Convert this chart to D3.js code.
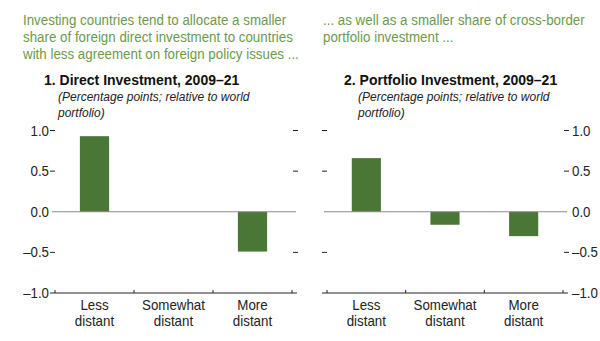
<!DOCTYPE html>
<html>
<head>
<meta charset="utf-8">
<script src="https://cdn.jsdelivr.net/npm/d3@7"></script>
<style>
  html, body { margin: 0; padding: 0; background: #fff; }
  svg { display: block; }
  text { font-family: "Liberation Sans Narrow", "Arial Narrow", "Liberation Sans", Arial, sans-serif; }
</style>
</head>
<body>
<svg id="chart" width="600" height="341"></svg>
<script>
// Categories and values (percentage points relative to world portfolio)
const categories = ["Less distant", "Somewhat distant", "More distant"];
const categoryLines = [["Less", "distant"], ["Somewhat", "distant"], ["More", "distant"]];
const directValues = [0.93, 0.0, -0.49];
const portfolioValues = [0.66, -0.16, -0.30];
const tickValues = [1.0, 0.5, 0.0, -0.5, -1.0];
const tickLabels = ["1.0", "0.5", "0.0", "\u20130.5", "\u20131.0"];

const headlineLeft = [
  "Investing countries tend to allocate a smaller",
  "share of foreign direct investment to countries",
  "with less agreement on foreign policy issues ..."
];
const headlineRight = [
  "... as well as a smaller share of cross-border",
  "portfolio investment ..."
];
const titleLeft = "1. Direct Investment, 2009\u201321";
const titleRight = "2. Portfolio Investment, 2009\u201321";
const subtitleLines = ["(Percentage points; relative to world", "portfolio)"];

const svg = d3.select("#chart");
const green = "#4a7636";
const headGreen = "#6b9a4b";

// Condensed-looking text: draw at (x, y) and squeeze horizontally by sx
function label(parent, str, x, y, size, sx, opts = {}) {
  const t = parent.append("text")
    .attr("transform", `translate(${x},${y}) scale(${sx},1)`)
    .attr("text-anchor", opts.anchor || "start")
    .attr("fill", opts.fill || "#222")
    .style("font-size", size + "px")
    .text(str);
  if (opts.weight) t.style("font-weight", opts.weight);
  if (opts.style) t.style("font-style", opts.style);
  return t;
}

function headline(lines, x) {
  lines.forEach((s, i) => label(svg, s, x, 25 + i * 17, 15, 0.89, { fill: headGreen }));
}

function panel(opts) {
  const { x0, x1, values, title, tx, labelSide } = opts;
  const y = d3.scaleLinear().domain([-1, 1]).range([293, 130.5]);
  const x = d3.scaleBand().domain(categories).range([x0 + 3, x1 - 4]).paddingInner(0.63).paddingOuter(0.315);
  const g = svg.append("g");

  // title block
  label(g, title, tx, 85, 14, 1.0, { weight: "bold", fill: "#111" });
  subtitleLines.forEach((s, i) => label(g, s, tx + 14, 101 + i * 16, 13.5, 0.89, { style: "italic" }));

  // bars
  g.selectAll("rect.bar").data(values).join("rect")
    .attr("class", "bar")
    .attr("x", (d, i) => x(categories[i]))
    .attr("width", x.bandwidth())
    .attr("y", d => y(Math.max(0, d)))
    .attr("height", d => Math.abs(y(d) - y(0)))
    .attr("fill", green);

  // zero line
  g.append("line").attr("x1", x0).attr("x2", x1)
    .attr("y1", y(0)).attr("y2", y(0))
    .attr("stroke", "#8a8a8a").attr("stroke-width", 1.2);

  // y tick marks on both sides
  [x0 - 2, x1 - 3].forEach(tx0 => {
    g.selectAll(null).data(tickValues.filter(v => v !== 0 && v !== -1)).join("line")
      .attr("x1", tx0).attr("x2", tx0 + 5)
      .attr("y1", d => y(d)).attr("y2", d => y(d))
      .attr("stroke", "#222").attr("stroke-width", 1);
  });

  // y labels
  const lx = labelSide === "left" ? x0 - 3 : x1 + 5;
  tickValues.forEach((v, i) => label(g, tickLabels[i], lx, y(v) + 5, 14, 0.95,
    { anchor: labelSide === "left" ? "end" : "start" }));

  // bottom axis with inward ticks at band edges
  const bx = d3.scaleLinear().domain([0, 3]).range([x0 + 3, x1 - 4]);
  g.append("line").attr("x1", x0 - 2).attr("x2", x1 + 1)
    .attr("y1", y(-1)).attr("y2", y(-1))
    .attr("stroke", "#222").attr("stroke-width", 1);
  g.selectAll(null).data([0, 1, 2, 3]).join("line")
    .attr("x1", d => bx(d)).attr("x2", d => bx(d))
    .attr("y1", y(-1) - 3).attr("y2", y(-1))
    .attr("stroke", "#222").attr("stroke-width", 1);

  // category labels
  categories.forEach((c, i) => {
    const cx = x(c) + x.bandwidth() / 2;
    categoryLines[i].forEach((s, j) => label(g, s, cx, 310 + j * 16, 14.5, 0.92, { anchor: "middle" }));
  });
}

headline(headlineLeft, 23);
headline(headlineRight, 323);

panel({ x0: 52, x1: 296, values: directValues, title: titleLeft, tx: 44, labelSide: "left" });
panel({ x0: 324, x1: 567, values: portfolioValues, title: titleRight, tx: 344, labelSide: "right" });
</script>
</body>
</html>
